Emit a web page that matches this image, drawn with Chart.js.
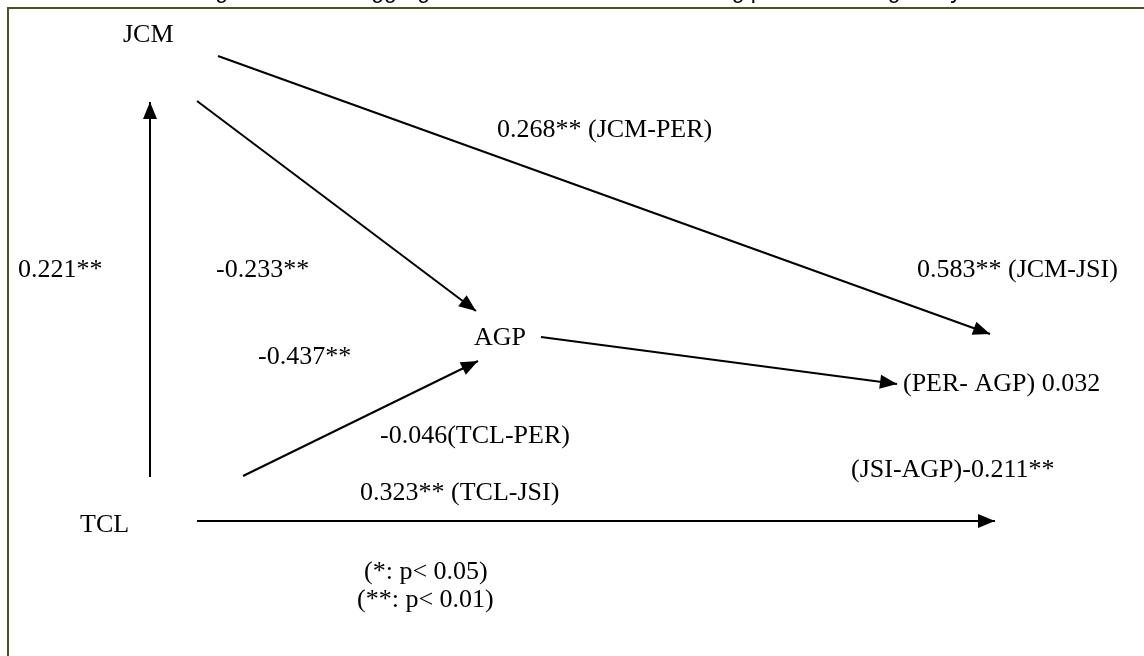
<!DOCTYPE html>
<html>
<head>
<meta charset="utf-8">
<script src="https://cdn.jsdelivr.net/npm/chart.js@4"></script>
<style>
html,body{margin:0;padding:0;background:#fff;}
#wrap{width:1144px;height:656px;position:relative;}
</style>
</head>
<body>
<div id="wrap"><canvas id="c" width="1144" height="656"></canvas></div>
<script>
// Path diagram data (diagram units = pixels of a 1144x656 frame)
const titleText = "Figure 1.1: The aggregated model of structural testing path modelling analysis";
const pathNames = ["JCM-PER/JSI", "JCM-AGP", "TCL-JCM", "TCL-AGP", "AGP-PER", "TCL-JSI"];
const pathStartX = [218, 197, 150, 243, 541, 197];
const pathStartY = [56, 101, 477, 476, 337, 521];
const pathEndX = [990, 476, 150, 478, 897, 995];
const pathEndY = [334, 311, 102, 361, 384, 521];

const labelTexts = ["JCM", "AGP", "TCL",
  "0.268** (JCM-PER)", "0.221**", "-0.233**", "0.583** (JCM-JSI)",
  "-0.437**", "(PER- AGP) 0.032", "-0.046(TCL-PER)", "(JSI-AGP)-0.211**",
  "0.323** (TCL-JSI)", "(*: p< 0.05)", "(**: p< 0.01)"];
const labelX = [123, 474, 80, 497, 18, 216, 917, 258, 903, 380, 851, 360, 364, 357];
const labelY = [35, 338, 525, 130, 270, 270, 270, 357, 384, 436, 470, 493, 572, 600];

const datasets = pathNames.map((n, i) => ({
  label: n,
  data: [{x: pathStartX[i], y: pathStartY[i]}, {x: pathEndX[i], y: pathEndY[i]}],
  showLine: true,
  borderColor: '#000',
  borderWidth: 2,
  pointRadius: 0,
  fill: false
}));

const diagramPlugin = {
  id: 'diagram',
  beforeDraw(chart) {
    const ctx = chart.ctx;
    ctx.save();
    ctx.fillStyle = '#fff';
    ctx.fillRect(0, 0, chart.width, chart.height);
    ctx.restore();
  },
  afterDatasetsDraw(chart) {
    const ctx = chart.ctx;
    const xs = chart.scales.x, ys = chart.scales.y;
    ctx.save();
    // arrowheads
    ctx.fillStyle = '#000';
    for (let i = 0; i < pathNames.length; i++) {
      const x0 = xs.getPixelForValue(pathStartX[i]), y0 = ys.getPixelForValue(pathStartY[i]);
      const x1 = xs.getPixelForValue(pathEndX[i]), y1 = ys.getPixelForValue(pathEndY[i]);
      const a = Math.atan2(y1 - y0, x1 - x0);
      const L = 17, W = 7;
      ctx.beginPath();
      ctx.moveTo(x1, y1);
      ctx.lineTo(x1 - L * Math.cos(a) + W * Math.sin(a), y1 - L * Math.sin(a) - W * Math.cos(a));
      ctx.lineTo(x1 - L * Math.cos(a) - W * Math.sin(a), y1 - L * Math.sin(a) + W * Math.cos(a));
      ctx.closePath();
      ctx.fill();
    }
    // labels
    ctx.font = '26px "Liberation Serif", "Times New Roman", serif';
    ctx.textBaseline = 'middle';
    ctx.textAlign = 'left';
    ctx.fillStyle = '#000';
    for (let i = 0; i < labelTexts.length; i++) {
      ctx.fillText(labelTexts[i], xs.getPixelForValue(labelX[i]), ys.getPixelForValue(labelY[i]));
    }
    // title (cut off at top edge)
    ctx.font = '23px "Liberation Sans", Arial, sans-serif';
    ctx.textBaseline = 'alphabetic';
    ctx.textAlign = 'left';
    ctx.fillText(titleText, 196, -2);
    // frame
    ctx.strokeStyle = '#4f4f22';
    ctx.lineWidth = 2;
    ctx.beginPath();
    ctx.moveTo(xs.getPixelForValue(8), ys.getPixelForValue(700));
    ctx.lineTo(xs.getPixelForValue(8), ys.getPixelForValue(8));
    ctx.lineTo(xs.getPixelForValue(102), ys.getPixelForValue(8));
    ctx.stroke();
    ctx.beginPath();
    ctx.moveTo(xs.getPixelForValue(102), ys.getPixelForValue(8));
    ctx.lineTo(xs.getPixelForValue(1160), ys.getPixelForValue(8));
    ctx.stroke();
    ctx.restore();
  }
};

new Chart(document.getElementById('c'), {
  type: 'scatter',
  data: { datasets },
  options: {
    responsive: false,
    animation: false,
    layout: { padding: 0 },
    plugins: { legend: { display: false }, tooltip: { enabled: false }, title: { display: false } },
    scales: {
      x: { type: 'linear', min: 0, max: 1144, display: false },
      y: { type: 'linear', min: 0, max: 656, reverse: true, display: false }
    }
  },
  plugins: [diagramPlugin]
});
</script>
</body>
</html>
